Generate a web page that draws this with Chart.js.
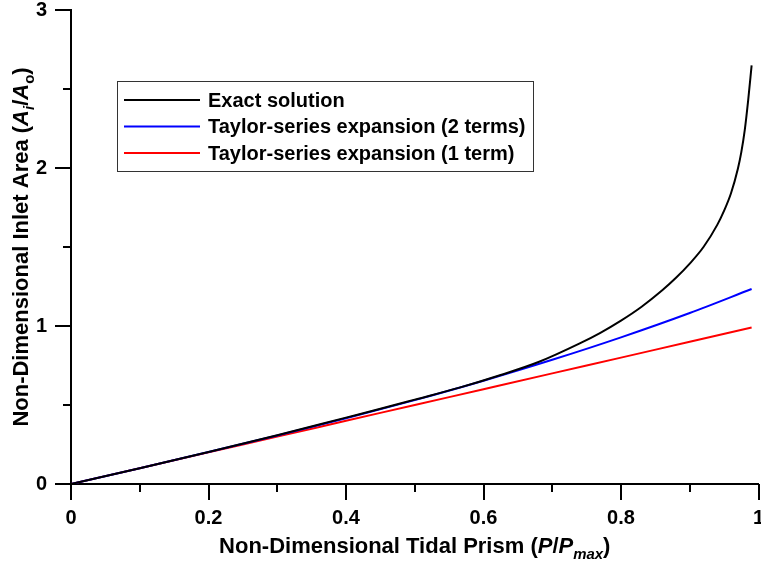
<!DOCTYPE html>
<html>
<head>
<meta charset="utf-8">
<script src="https://cdn.jsdelivr.net/npm/chart.js@4/dist/chart.umd.min.js"></script>
<style>
  body { margin: 0; background: #fff; }
  #wrap { width: 761px; height: 562px; }
</style>
</head>
<body>
<div id="wrap"><canvas id="inletChart" width="761" height="562"></canvas></div>
<script>
// data
const exactX = [0, 0.1, 0.2, 0.3, 0.4, 0.45, 0.5, 0.565, 0.625, 0.68, 0.74, 0.77, 0.8, 0.83, 0.86, 0.88, 0.9, 0.92, 0.94, 0.95, 0.96, 0.97, 0.975, 0.98, 0.985, 0.99];
const exactY = [0, 0.10, 0.202, 0.308, 0.42, 0.476, 0.534, 0.61, 0.69, 0.772, 0.89, 0.957, 1.034, 1.122, 1.226, 1.305, 1.395, 1.50, 1.64, 1.73, 1.84, 1.995, 2.10, 2.24, 2.43, 2.65];
const taylorX = [0, 0.1, 0.2, 0.3, 0.4, 0.5, 0.6, 0.7, 0.8, 0.9, 0.99];
const taylor2Y = [0, 0.10, 0.202, 0.307, 0.416, 0.531, 0.654, 0.786, 0.928, 1.082, 1.234];
const taylor1Y = [0, 0.10, 0.20, 0.30, 0.40, 0.50, 0.60, 0.70, 0.80, 0.90, 0.99];

const seriesLabels = ['Exact solution', 'Taylor-series expansion (2 terms)', 'Taylor-series expansion (1 term)'];
const seriesColors = ['#000000', '#0000ff', '#ff0000'];

const xTickValues = [0, 0.2, 0.4, 0.6, 0.8, 1];
const xTickLabels = ['0', '0.2', '0.4', '0.6', '0.8', '1'];
const yTickValues = [0, 1, 2, 3];
const yTickLabels = ['0', '1', '2', '3'];

const FONT = '"Liberation Sans", Arial, sans-serif';

function pts(xs, ys) {
    return xs.map((x, i) => ({ x: x, y: ys[i] }));
}

function labelFor(v, values, labels) {
    const i = values.findIndex(t => Math.abs(t - v) < 1e-6);
    return i >= 0 ? labels[i] : '';
}

// draw a run of text pieces (bold / italic / subscript), centred on 0
function drawRich(ctx, parts, size) {
    const fontOf = p => (p.italic ? 'italic ' : '') + 'bold ' + (p.sub ? size * 0.68 : size) + 'px ' + FONT;
    const widths = parts.map(p => {
        ctx.font = fontOf(p);
        return ctx.measureText(p.t).width;
    });
    const total = widths.reduce((a, b) => a + b, 0);
    let x = -total / 2;
    parts.forEach((p, i) => {
        ctx.font = fontOf(p);
        ctx.fillText(p.t, x, p.sub ? size * 0.28 : 0);
        x += widths[i];
    });
}

// outward tick marks, long for labelled ticks and short for the rest
const tickMarks = {
    id: 'tickMarks',
    afterDraw(chart) {
        const ctx = chart.ctx;
        const xs = chart.scales.x, ys = chart.scales.y;
        const area = chart.chartArea;
        ctx.save();
        ctx.strokeStyle = '#000';
        ctx.lineWidth = 2;
        xs.ticks.forEach(t => {
            const px = Math.round(xs.getPixelForValue(t.value));
            const len = labelFor(t.value, xTickValues, xTickLabels) ? 16 : 8;
            ctx.beginPath();
            ctx.moveTo(px, area.bottom);
            ctx.lineTo(px, area.bottom + len);
            ctx.stroke();
        });
        ys.ticks.forEach(t => {
            const py = Math.round(ys.getPixelForValue(t.value));
            const len = labelFor(t.value, yTickValues, yTickLabels) ? 16 : 8;
            ctx.beginPath();
            ctx.moveTo(area.left, py);
            ctx.lineTo(area.left - len, py);
            ctx.stroke();
        });
        ctx.restore();
    }
};

// axis titles with italic symbols and subscripts
const axisTitles = {
    id: 'axisTitles',
    afterDraw(chart) {
        const ctx = chart.ctx;
        const area = chart.chartArea;
        ctx.save();
        ctx.fillStyle = '#000';
        ctx.textBaseline = 'alphabetic';
        ctx.textAlign = 'left';

        ctx.save();
        ctx.translate((area.left + area.right) / 2, 553);
        drawRich(ctx, [
            { t: 'Non-Dimensional Tidal Prism (' },
            { t: 'P', italic: true },
            { t: '/' },
            { t: 'P', italic: true },
            { t: 'max', italic: true, sub: true },
            { t: ')' }
        ], 22);
        ctx.restore();

        ctx.save();
        ctx.translate(28, (area.top + area.bottom) / 2);
        ctx.rotate(-Math.PI / 2);
        drawRich(ctx, [
            { t: 'Non-Dimensional Inlet Area (' },
            { t: 'A', italic: true },
            { t: 'i', italic: true, sub: true },
            { t: '/' },
            { t: 'A', italic: true },
            { t: 'o', sub: true },
            { t: ')' }
        ], 22);
        ctx.restore();
        ctx.restore();
    }
};

// boxed legend inside the plot
const boxLegend = {
    id: 'boxLegend',
    afterDraw(chart) {
        const ctx = chart.ctx;
        const bx = 117.5, by = 81.5, bw = 416, bh = 90;
        ctx.save();
        ctx.fillStyle = '#fff';
        ctx.fillRect(bx, by, bw, bh);
        ctx.strokeStyle = '#333';
        ctx.lineWidth = 1;
        ctx.strokeRect(bx, by, bw, bh);
        ctx.font = 'bold 20px ' + FONT;
        ctx.textBaseline = 'middle';
        ctx.textAlign = 'left';
        chart.data.datasets.forEach((ds, i) => {
            const y = 100 + i * 26.5;
            ctx.strokeStyle = ds.borderColor;
            ctx.lineWidth = 2;
            ctx.beginPath();
            ctx.moveTo(124, y);
            ctx.lineTo(200, y);
            ctx.stroke();
            ctx.fillStyle = '#000';
            ctx.fillText(ds.label, 208, y + 1);
        });
        ctx.restore();
    }
};

const ctx = document.getElementById('inletChart');
new Chart(ctx, {
    type: 'scatter',
    data: {
        datasets: [
            { label: seriesLabels[0], data: pts(exactX, exactY), borderColor: seriesColors[0] },
            { label: seriesLabels[1], data: pts(taylorX, taylor2Y), borderColor: seriesColors[1] },
            { label: seriesLabels[2], data: pts(taylorX, taylor1Y), borderColor: seriesColors[2] }
        ].map(d => Object.assign(d, {
            showLine: true,
            pointRadius: 0,
            borderWidth: 2,
            cubicInterpolationMode: 'monotone',
            fill: false
        }))
    },
    options: {
        responsive: false,
        animation: false,
        layout: { autoPadding: false, padding: { left: 0, top: 10, right: 2.5, bottom: 0 } },
        plugins: { legend: { display: false }, tooltip: { enabled: false } },
        scales: {
            x: {
                type: 'linear',
                min: 0, max: 1,
                grid: { display: false, drawTicks: false },
                border: { display: true, color: '#000', width: 2 },
                ticks: {
                    stepSize: 0.1,
                    padding: 22,
                    color: '#000',
                    maxRotation: 0,
                    autoSkip: false,
                    font: { family: FONT, size: 20, weight: 'bold' },
                    callback: v => labelFor(v, xTickValues, xTickLabels)
                },
                afterFit: s => { s.height = 78; s.paddingLeft = 0; s.paddingRight = 0; }
            },
            y: {
                type: 'linear',
                min: 0, max: 3,
                grid: { display: false, drawTicks: false },
                border: { display: true, color: '#000', width: 2 },
                ticks: {
                    stepSize: 0.5,
                    padding: 24,
                    color: '#000',
                    autoSkip: false,
                    font: { family: FONT, size: 20, weight: 'bold' },
                    callback: v => labelFor(v, yTickValues, yTickLabels)
                },
                afterFit: s => { s.width = 71; s.paddingTop = 0; s.paddingBottom = 0; }
            }
        }
    },
    plugins: [tickMarks, axisTitles, boxLegend]
});
</script>
</body>
</html>
